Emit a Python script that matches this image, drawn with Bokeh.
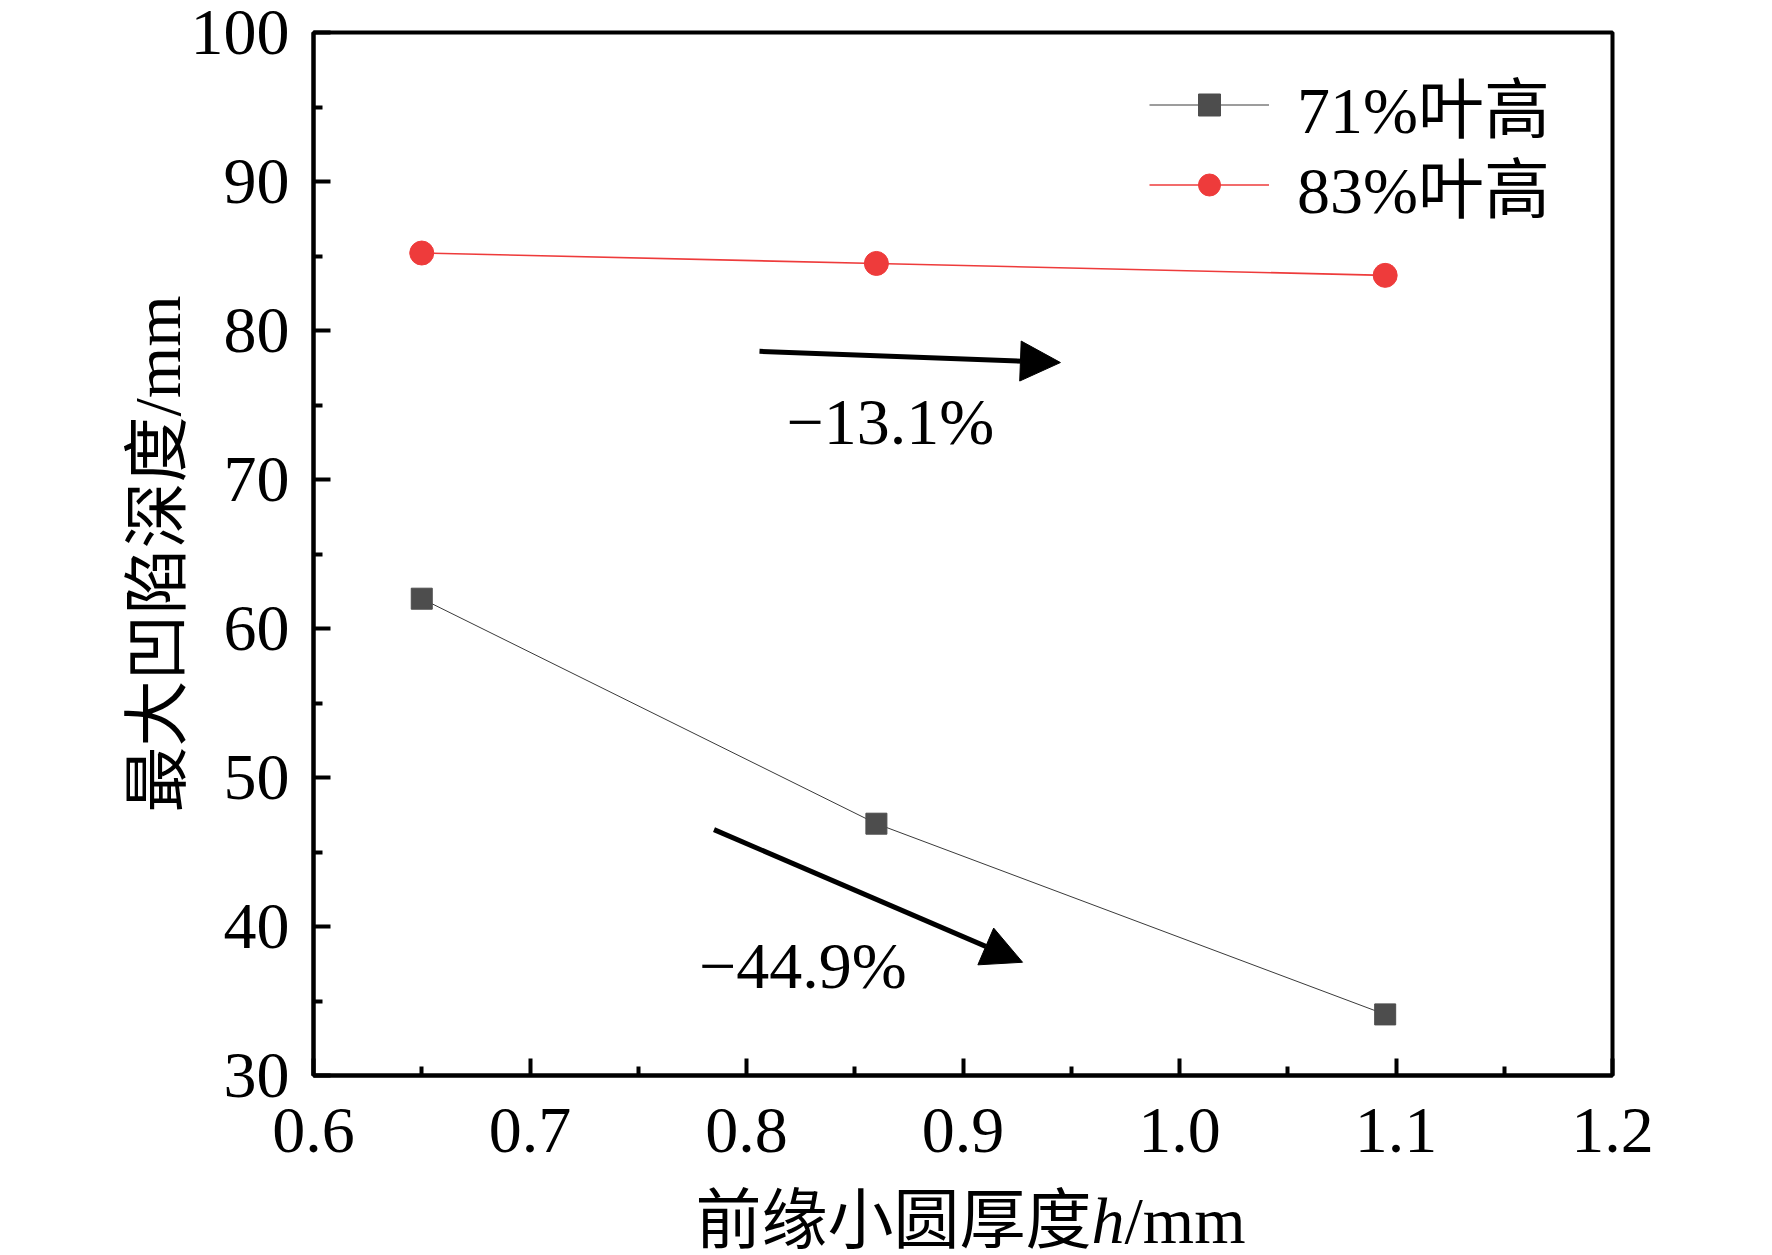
from bokeh.plotting import figure
from bokeh.layouts import column
from bokeh.models import (Range1d, FixedTicker, Label, Arrow, NormalHead, Legend, LegendItem,
                          ColumnDataSource, CustomJSTickFormatter)
from bokeh.embed import file_html
from bokeh.resources import INLINE

# ---- data ----
thickness = [0.65, 0.86, 1.095]
depth_71 = [62.0, 46.9, 34.1]
depth_83 = [85.2, 84.5, 83.7]
series_names = ["71%叶高", "83%叶高"]

x_ticks = [0.6, 0.7, 0.8, 0.9, 1.0, 1.1, 1.2]
x_minor = [0.65, 0.75, 0.85, 0.95, 1.05, 1.15]
y_ticks = [30, 40, 50, 60, 70, 80, 90, 100]
y_minor = [35, 45, 55, 65, 75, 85, 95]

# annotation arrows (data units) and labels
arrow_83 = dict(x0=0.806, y0=78.6, x1=0.945, y1=77.85)
arrow_71 = dict(x0=0.785, y0=46.5, x1=0.9275, y1=37.6)
note_83 = dict(x=0.8665, y=73.9, text="\u221213.1%")
note_71 = dict(x=0.826, y=37.35, text="\u221244.9%")

# x-axis title pieces (text, style, x in data units of the x axis)
xlabel_parts = [("前缘小圆厚度", "normal", 0.7764), ("h", "italic", 0.9594), ("/mm", "normal", 0.9746)]

FONT = "'Liberation Serif', 'Times New Roman', 'Noto Sans CJK SC', serif"
FS = "66px"
W = 1756
H_MAIN = 1183
H_STRIP = 66

p = figure(width=W, height=H_MAIN, output_backend="svg", toolbar_location=None,
           x_range=Range1d(0.6, 1.2), y_range=Range1d(30, 100),
           min_border_left=313, min_border_right=144, min_border_top=32, min_border_bottom=108)
p.grid.visible = False
p.outline_line_color = "black"
p.outline_line_width = 4
p.background_fill_color = "white"
p.border_fill_color = "white"

for ax in (p.xaxis[0], p.yaxis[0]):
    ax.axis_line_width = 4
    ax.major_tick_line_width = 4
    ax.minor_tick_line_width = 4
    ax.major_tick_in = 17
    ax.major_tick_out = 0
    ax.minor_tick_in = 9
    ax.minor_tick_out = 0
    ax.major_label_text_font = FONT
    ax.major_label_text_font_size = FS
    ax.major_label_text_color = "black"
    ax.axis_label_text_font = FONT
    ax.axis_label_text_font_size = FS
    ax.axis_label_text_font_style = "normal"
    ax.axis_label_text_color = "black"

p.xaxis[0].ticker = FixedTicker(ticks=x_ticks, minor_ticks=x_minor)
p.yaxis[0].ticker = FixedTicker(ticks=y_ticks, minor_ticks=y_minor)
p.xaxis[0].formatter = CustomJSTickFormatter(code="return tick.toFixed(1);")
p.xaxis[0].major_label_standoff = 33
p.yaxis[0].major_label_standoff = 24
p.yaxis[0].axis_label = "最大凹陷深度/mm"
p.yaxis[0].axis_label_standoff = -6

# ---- series ----
src71 = ColumnDataSource(dict(x=thickness, y=depth_71))
src83 = ColumnDataSource(dict(x=thickness, y=depth_83))
l71 = p.line("x", "y", source=src71, line_color="#3a3a3a", line_width=1)
m71 = p.scatter("x", "y", source=src71, marker="square", size=21, fill_color="#4d4d4d", line_color="#4d4d4d")
l83 = p.line("x", "y", source=src83, line_color="#ee3b3b", line_width=1.6)
m83 = p.scatter("x", "y", source=src83, marker="circle", size=24, fill_color="#ee3b3b", line_color="#ee3b3b")

legend_locs = [(836, 923), (836, 843)]
for name, rends, loc in zip(series_names, [[l71, m71], [l83, m83]], legend_locs):
    lg = Legend(items=[LegendItem(label=name, renderers=rends)],
                location=loc, border_line_color=None, background_fill_alpha=0,
                glyph_width=120, glyph_height=55, label_standoff=28, spacing=0, padding=10, margin=0,
                label_text_font=FONT, label_text_font_size=FS, label_text_color="black")
    p.add_layout(lg)

# ---- arrows & notes ----
for a in (arrow_83, arrow_71):
    p.add_layout(Arrow(end=NormalHead(size=40, fill_color="black", line_color="black", line_width=1),
                       x_start=a["x0"], y_start=a["y0"], x_end=a["x1"], y_end=a["y1"],
                       line_width=5, line_color="black"))
for n in (note_83, note_71):
    p.add_layout(Label(x=n["x"], y=n["y"], text=n["text"], text_align="center",
                       text_baseline="alphabetic", text_font=FONT, text_font_size=FS, text_color="black"))

# ---- strip below with the x axis title (italic h); frame aligned with the main plot ----
strip = figure(width=W, height=H_STRIP, output_backend="svg", toolbar_location=None,
               x_range=p.x_range, y_range=Range1d(0, H_STRIP),
               x_axis_location=None, y_axis_location=None,
               min_border_left=313, min_border_right=144, min_border_top=0, min_border_bottom=0)
strip.grid.visible = False
strip.outline_line_color = None
strip.background_fill_color = "white"
strip.border_fill_color = "white"
for txt, style, xs in xlabel_parts:
    strip.add_layout(Label(x=xs, y=H_STRIP, text=txt,
                           text_align="left", text_baseline="top", text_font=FONT,
                           text_font_size=FS, text_font_style=style, text_color="black"))

layout = column(p, strip, spacing=0)
open("out.html", "w").write(file_html(layout, INLINE))
